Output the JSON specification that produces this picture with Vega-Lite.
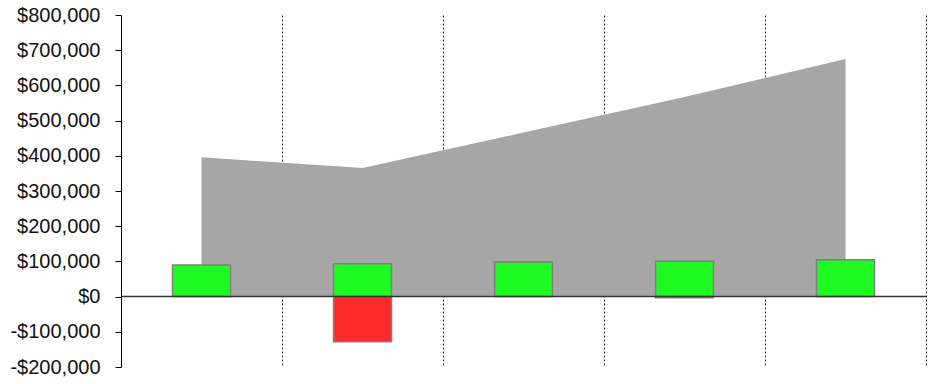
{
  "$schema": "https://vega.github.io/schema/vega-lite/v6.json",
  "autosize": "none",
  "width": 805,
  "height": 352,
  "padding": {"left": 121, "top": 15, "right": 6, "bottom": 17},
  "background": "white",
  "config": {
    "view": {"stroke": null},
    "font": "Liberation Sans"
  },
  "datasets": {
    "series": [
      {"period": "P1", "kind": "total", "value": 396000},
      {"period": "P2", "kind": "total", "value": 365000},
      {"period": "P3", "kind": "total", "value": 466000},
      {"period": "P4", "kind": "total", "value": 567000},
      {"period": "P5", "kind": "total", "value": 675000},
      {"period": "P1", "kind": "gain", "value": 90000},
      {"period": "P2", "kind": "gain", "value": 93500},
      {"period": "P2", "kind": "loss", "value": -128000},
      {"period": "P3", "kind": "gain", "value": 98000},
      {"period": "P4", "kind": "gain", "value": 100700},
      {"period": "P4", "kind": "loss", "value": -3000},
      {"period": "P5", "kind": "gain", "value": 104700}
    ]
  },
  "data": {"name": "series"},
  "encoding": {
    "x": {
      "field": "period",
      "type": "ordinal",
      "sort": ["P1", "P2", "P3", "P4", "P5"],
      "scale": {"type": "band", "domain": ["P1", "P2", "P3", "P4", "P5"], "paddingInner": 0, "paddingOuter": 0},
      "axis": {
        "title": null,
        "labels": false,
        "ticks": false,
        "domain": false,
        "grid": true,
        "bandPosition": 1,
        "gridColor": "#2a2a2a",
        "gridDash": [2, 2],
        "gridWidth": 1
      }
    },
    "y": {
      "field": "value",
      "type": "quantitative",
      "scale": {"domain": [-200000, 800000], "nice": false, "zero": false},
      "axis": {
        "title": null,
        "values": [-200000, -100000, 0, 100000, 200000, 300000, 400000, 500000, 600000, 700000, 800000],
        "labelExpr": "datum.value < 0 ? '-$' + format(-datum.value, ',') : '$' + format(datum.value, ',')",
        "labelFont": "Liberation Sans",
        "labelFontSize": 20,
        "labelColor": "#111111",
        "labelPadding": 15,
        "labelOverlap": false,
        "labelBound": false,
        "labelFlush": false,
        "labelSeparation": 0,
        "tickSize": 6,
        "tickColor": "#000000",
        "domainColor": "#000000",
        "domainWidth": 1,
        "grid": false
      }
    }
  },
  "layer": [
    {
      "transform": [{"filter": "datum.kind === 'total'"}],
      "mark": {"type": "area", "color": "#a6a6a6", "opacity": 1},
      "encoding": {
        "x": {"field": "period", "type": "ordinal", "bandPosition": 0.5, "sort": ["P1", "P2", "P3", "P4", "P5"]}
      }
    },
    {
      "transform": [{"filter": "datum.kind !== 'total'"}],
      "mark": {"type": "bar", "width": {"band": 0.36}, "stroke": "#7f7f7f", "strokeWidth": 1.5},
      "encoding": {
        "color": {
          "field": "kind",
          "type": "nominal",
          "scale": {"domain": ["gain", "loss"], "range": ["#1ffa22", "#fb2b2b"]},
          "legend": null
        }
      }
    },
    {
      "transform": [{"filter": "datum.kind === 'total' && datum.period === 'P1'"}],
      "mark": {"type": "rule", "color": "#333333", "strokeWidth": 1.5},
      "encoding": {
        "x": null,
        "y": {"datum": 0, "type": "quantitative"}
      }
    }
  ]
}
